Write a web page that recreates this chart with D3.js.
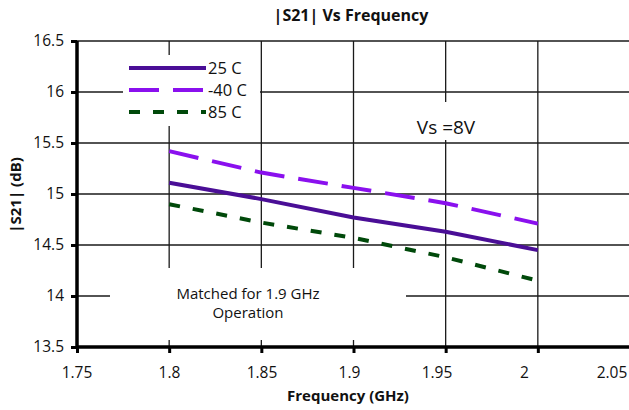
<!DOCTYPE html>
<html>
<head>
<meta charset="utf-8">
<script src="https://cdn.jsdelivr.net/npm/d3@7"></script>
<style>
  html, body { margin: 0; padding: 0; background: #fff; }
  svg { display: block; font-family: "Open Sans", "DejaVu Sans", sans-serif; }
</style>
</head>
<body>
<svg id="chart" width="629" height="410"></svg>
<script>
// ---- data ----
const freqs = [1.8, 1.85, 1.9, 1.95, 2.0];
const s21_25C = [15.11, 14.95, 14.77, 14.63, 14.45];
const s21_m40C = [15.42, 15.21, 15.06, 14.91, 14.71];
const s21_85C = [14.90, 14.72, 14.57, 14.38, 14.15];
const seriesNames = ["25 C", "-40 C", "85 C"];
const xTicks = [1.75, 1.8, 1.85, 1.9, 1.95, 2.0, 2.05];
const xTickLabels = ["1.75", "1.8", "1.85", "1.9", "1.95", "2", "2.05"];
const yTicks = [13.5, 14, 14.5, 15, 15.5, 16, 16.5];
const yTickLabels = ["13.5", "14", "14.5", "15", "15.5", "16", "16.5"];

const series = [
  { name: seriesNames[0], values: s21_25C, color: "#4a0e96", dash: null },
  { name: seriesNames[1], values: s21_m40C, color: "#8a10ee", dash: "30,14" },
  { name: seriesNames[2], values: s21_85C, color: "#00490a", dash: "11,13" }
];

const svg = d3.select("#chart");
const x = d3.scaleLinear().domain([1.75, 2.05]).range([77, 630]);
const xLabel = d3.scaleLinear().domain([1.75, 1.85, 2.05]).range([77, 262, 612]);
const y = d3.scaleLinear().domain([13.5, 16.5]).range([347, 41]);

// gridlines
const grid = svg.append("g");
grid.selectAll("line.v").data(xTicks.slice(1)).join("line")
  .attr("x1", d => x(d)).attr("x2", d => x(d))
  .attr("y1", y(16.5)).attr("y2", y(13.5))
  .attr("stroke", "#1a1a1a").attr("stroke-width", 1.3);
grid.selectAll("line.h").data(yTicks.slice(1)).join("line")
  .attr("x1", x(1.75)).attr("x2", x(2.05))
  .attr("y1", d => y(d)).attr("y2", d => y(d))
  .attr("stroke", "#1a1a1a").attr("stroke-width", 1.3);

// white boxes behind text annotations
svg.append("rect").attr("x", 123).attr("y", 55).attr("width", 137).attr("height", 71).attr("fill", "#fff");
svg.append("rect").attr("x", 398).attr("y", 102).attr("width", 98).attr("height", 38).attr("fill", "#fff");
svg.append("rect").attr("x", 110).attr("y", 268).attr("width", 296).attr("height", 72).attr("fill", "#fff");

// series lines
const line = d3.line().x((d, i) => x(freqs[i])).y(d => y(d));
svg.append("g").selectAll("path").data(series).join("path")
  .attr("d", d => line(d.values))
  .attr("fill", "none")
  .attr("stroke", d => d.color)
  .attr("stroke-width", 4)
  .attr("stroke-dasharray", d => d.dash);

// axes
const yAxis = d3.axisLeft(y).tickValues(yTicks).tickSize(6).tickFormat((d, i) => yTickLabels[i]);
const gy = svg.append("g").attr("transform", `translate(${x(1.75)},0)`).call(yAxis);
gy.select(".domain").attr("stroke", "#000").attr("stroke-width", 3.5).attr("d", `M0,${y(16.5)}V${y(13.5)}`);
gy.selectAll(".tick line").attr("stroke", "#000").attr("stroke-width", 3);
gy.selectAll(".tick text").attr("x", -13).attr("font-size", 15.5).attr("fill", "#111")
  .attr("font-family", "Open Sans, sans-serif");

const xAxis = d3.axisBottom(x).tickValues(xTicks).tickSize(6).tickFormat(() => "");
const gx = svg.append("g").attr("transform", `translate(0,${y(13.5)})`).call(xAxis);
gx.select(".domain").attr("stroke", "#000").attr("stroke-width", 3.5).attr("d", `M${x(1.75)},0H${x(2.05)}`);
gx.selectAll(".tick line").attr("stroke", "#000").attr("stroke-width", 3);

svg.append("g").selectAll("text").data(xTicks).join("text")
  .attr("x", d => xLabel(d)).attr("y", 378)
  .attr("text-anchor", "middle").attr("font-size", 15.5).attr("fill", "#111")
  .text((d, i) => xTickLabels[i]);

// titles
svg.append("text").attr("x", 351).attr("y", 21).attr("text-anchor", "middle")
  .attr("font-size", 16).attr("font-weight", "bold").attr("fill", "#111").text("|S21| Vs Frequency");
svg.append("text").attr("x", 348).attr("y", 401).attr("text-anchor", "middle")
  .attr("font-size", 15).attr("font-weight", "bold").attr("fill", "#111").text("Frequency (GHz)");
svg.append("text").attr("transform", "translate(21,195) rotate(-90)").attr("text-anchor", "middle")
  .attr("font-size", 15).attr("font-weight", "bold").attr("fill", "#111").text("|S21| (dB)");

// legend
const lg = svg.append("g").selectAll("g").data(series).join("g")
  .attr("transform", (d, i) => `translate(129,${68 + i * 22})`);
lg.append("line").attr("x1", 0).attr("x2", 77).attr("y1", 0).attr("y2", 0)
  .attr("stroke", d => d.color).attr("stroke-width", 4).attr("stroke-dasharray", d => d.dash);
lg.append("text").attr("x", 79).attr("y", 6).attr("font-size", 16.5).attr("fill", "#111").text(d => d.name);

// annotations
svg.append("text").attr("x", 446).attr("y", 134).attr("text-anchor", "middle")
  .attr("font-size", 19).attr("fill", "#111").text("Vs =8V");
const ann = svg.append("text").attr("text-anchor", "middle").attr("font-size", 15).attr("fill", "#111");
ann.append("tspan").attr("x", 248).attr("y", 299).text("Matched for 1.9 GHz");
ann.append("tspan").attr("x", 248).attr("y", 318).text("Operation");
</script>
</body>
</html>
